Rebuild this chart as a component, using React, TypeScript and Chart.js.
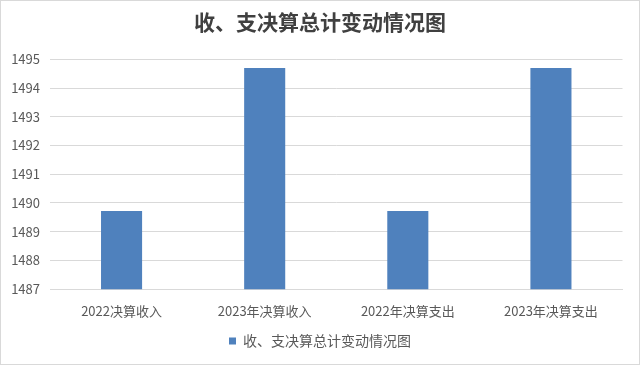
import React, { useEffect, useRef } from "react";
import { Chart, registerables } from "chart.js";

Chart.register(...registerables);

const categories = ["2022决算收入", "2023年决算收入", "2022年决算支出", "2023年决算支出"];
const values = [1489.72, 1494.7, 1489.72, 1494.7];
const seriesName = "收、支决算总计变动情况图";
const titleText = "收、支决算总计变动情况图";
const yMin = 1487;
const yMax = 1495;
const yStep = 1;

const FONT = "'Noto Sans CJK SC', 'Noto Sans', sans-serif";

export default function App() {
  const ref = useRef<HTMLCanvasElement | null>(null);
  useEffect(() => {
    document.body.style.margin = "0";
    if (!ref.current) return;
    const chart = new Chart(ref.current, {
      type: "bar",
      data: {
        labels: categories,
        datasets: [
          {
            label: seriesName,
            data: values,
            backgroundColor: "#4F81BD",
            borderWidth: 0,
            barPercentage: 0.287,
            categoryPercentage: 1,
          },
        ],
      },
      options: {
        animation: false,
        responsive: false,
        maintainAspectRatio: false,
        layout: { padding: { left: 0, right: 0, top: 0, bottom: 6 } },
        plugins: {
          title: {
            display: true,
            text: titleText,
            color: "#404040",
            font: { family: FONT, size: 21, weight: "bold" },
            padding: { top: 8.4, bottom: 24.7 },
          },
          legend: {
            display: true,
            position: "bottom",
            labels: {
              color: "#595959",
              font: { family: FONT, size: 14 },
              boxWidth: 7,
              boxHeight: 7,
              padding: 1.2,
            },
          },
          tooltip: { enabled: false },
        },
        scales: {
          x: {
            grid: { display: false, drawTicks: false },
            border: { display: true, color: "#d9d9d9" },
            ticks: {
              color: "#595959",
              font: { family: FONT, size: 13 },
              padding: 14,
              maxRotation: 0,
              autoSkip: false,
            },
          },
          y: {
            min: yMin,
            max: yMax,
            grid: { color: "#d9d9d9", drawTicks: false },
            border: { display: false },
            ticks: {
              stepSize: yStep,
              color: "#595959",
              font: { family: FONT, size: 13 },
              padding: 10,
              callback: (v: any) => String(v),
            },
            afterFit: (scale: any) => {
              scale.width = 49;
            },
          },
          yRightSpacer: {
            type: "linear",
            position: "right",
            min: 0,
            max: 1,
            grid: { display: false, drawTicks: false },
            border: { display: false },
            ticks: { display: false },
            afterFit: (scale: any) => {
              scale.width = 16.5;
            },
          },
        },
      },
    });
    return () => chart.destroy();
  }, []);
  return (
    <div
      style={{
        position: "fixed",
        left: 0,
        top: 0,
        width: 640,
        height: 365,
        boxSizing: "border-box",
        border: "1px solid #d9d9d9",
        background: "#fff",
      }}
    >
      <canvas ref={ref} width={638} height={363} style={{ display: "block" }} />
    </div>
  );
}
